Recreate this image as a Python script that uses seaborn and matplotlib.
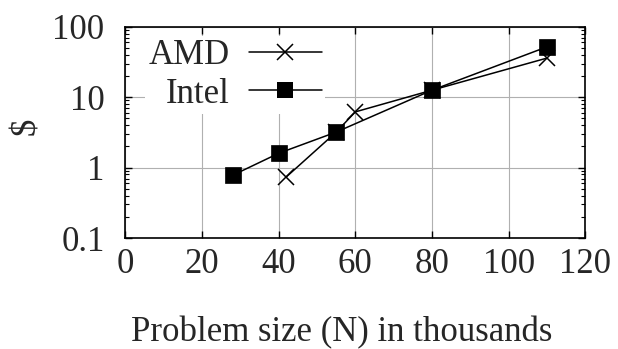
import matplotlib
matplotlib.use("Agg")
import matplotlib.pyplot as plt
import seaborn as sns
import pandas as pd
from matplotlib.ticker import LogLocator, NullFormatter, FixedLocator
from matplotlib.lines import Line2D

amd_x = [42, 55, 60, 80, 110]
amd_y = [0.74, 3.2, 6.2, 12.6, 36]
intel_x = [28, 40, 55, 80, 110]
intel_y = [0.78, 1.6, 3.2, 12.6, 52]
x_ticks = [0, 20, 40, 60, 80, 100, 120]
y_ticks = [0.1, 1, 10, 100]
y_tick_labels = ["0.1", "1", "10", "100"]

amd = pd.DataFrame({"N": amd_x, "cost": amd_y})
intel = pd.DataFrame({"N": intel_x, "cost": intel_y})

sns.set_theme(style="ticks")
plt.rcParams["font.family"] = ["Liberation Serif", "DejaVu Serif"]

FS = 25

fig = plt.figure(figsize=(6.18, 3.49), dpi=100)
ax = fig.add_axes([0.203, 0.318, 0.744, 0.605])

sns.lineplot(data=amd, x="N", y="cost", color="black", marker="x",
             markersize=11, markeredgewidth=1.1, markeredgecolor="black",
             linewidth=1.1, sort=False, ax=ax)
sns.lineplot(data=intel, x="N", y="cost", color="black", marker="s",
             markersize=12, markeredgewidth=0.5, markeredgecolor="black",
             linewidth=1.1, sort=False, ax=ax)

ax.set_yscale("log")
ax.set_xlim(0, 120)
ax.set_ylim(0.1, 100)
ax.xaxis.set_major_locator(FixedLocator(x_ticks))
ax.yaxis.set_major_locator(FixedLocator(y_ticks))
ax.set_yticklabels(y_tick_labels)
ax.yaxis.set_minor_locator(LogLocator(base=10, subs=range(2, 10)))
ax.yaxis.set_minor_formatter(NullFormatter())
ax.grid(True, which="major", color="#b0b0b0", linewidth=0.8)
ax.tick_params(which="both", direction="in", top=True, right=True,
               labelsize=FS, color="black")
ax.tick_params(axis="x", pad=7)
ax.tick_params(axis="y", pad=15)
ax.tick_params(which="major", length=5, width=1)
ax.tick_params(which="minor", length=3, width=0.8)
for s in ax.spines.values():
    s.set_color("black")
    s.set_linewidth(1.2)

ax.set_xlabel("Problem size (N) in thousands", fontsize=FS)
ax.xaxis.set_label_coords(0.471, -0.37)
ax.set_ylabel("\\$", fontsize=FS)
ax.yaxis.set_label_coords(-0.18, 0.53)

handles = [Line2D([], [], color="black", marker="x", markersize=11, markeredgewidth=1.1, linewidth=1.1),
           Line2D([], [], color="black", marker="s", markersize=12, markeredgewidth=0, linewidth=1.1)]
leg = ax.legend(handles, ["AMD", "Intel"], loc="upper left", bbox_to_anchor=(0.028, 0.99),
                markerfirst=False,
                fontsize=FS, frameon=True, fancybox=False, framealpha=1,
                edgecolor="none", facecolor="white", handlelength=2.1,
                labelspacing=0.15, borderpad=0.1, borderaxespad=0.2, handletextpad=0.55)
leg.set_zorder(5)

fig.savefig("out.png", dpi=100)
